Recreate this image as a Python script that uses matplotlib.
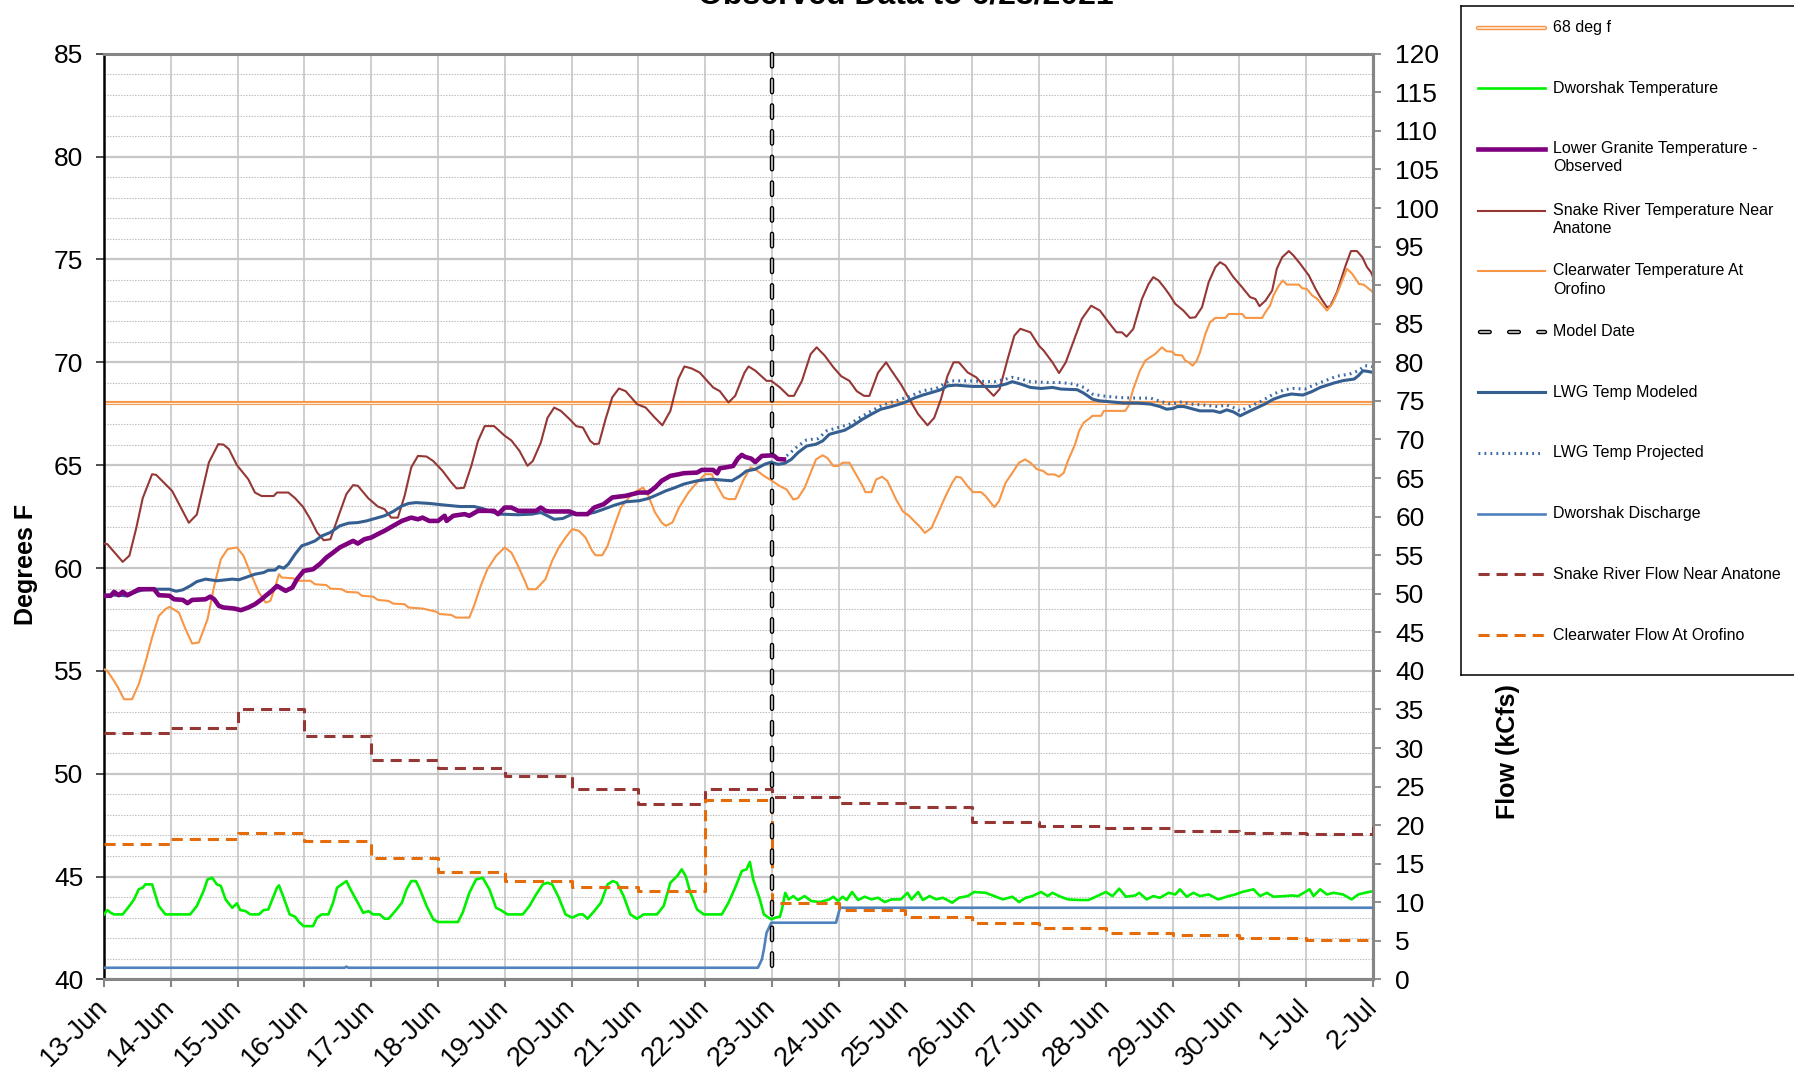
import matplotlib
matplotlib.use('Agg')
import matplotlib.pyplot as plt

plt.rcParams['font.family'] = ['Liberation Sans', 'DejaVu Sans']
plt.rcParams['lines.scale_dashes'] = False

# ---------------- data (x = days after 13-Jun 00:00) ----------------
date_labels = ['13-Jun', '14-Jun', '15-Jun', '16-Jun', '17-Jun', '18-Jun', '19-Jun',
               '20-Jun', '21-Jun', '22-Jun', '23-Jun', '24-Jun', '25-Jun', '26-Jun',
               '27-Jun', '28-Jun', '29-Jun', '30-Jun', '1-Jul', '2-Jul']
temp_ticks = [40, 45, 50, 55, 60, 65, 70, 75, 80, 85]
flow_ticks = list(range(0, 121, 5))

threshold_f = 68
model_day = 10

snake_temp = [(0, 61.19), (0.05, 61.16), (0.28, 60.30), (0.38, 60.6), (0.48, 61.9), (0.58, 63.4),
              (0.72, 64.56), (0.78, 64.53), (1.02, 63.75), (1.15, 62.94), (1.27, 62.2), (1.39, 62.6),
              (1.57, 65.13), (1.71, 66.02), (1.79, 66.0), (1.87, 65.78), (1.99, 65.0), (2.16, 64.32),
              (2.26, 63.67), (2.36, 63.5), (2.54, 63.5), (2.59, 63.67), (2.76, 63.67), (2.86, 63.4),
              (2.98, 62.97), (3.09, 62.37), (3.19, 61.73), (3.29, 61.35), (3.39, 61.4), (3.53, 62.7),
              (3.63, 63.6), (3.73, 64.03), (3.80, 64.0), (3.96, 63.38), (4.10, 62.99), (4.20, 62.86),
              (4.30, 62.45), (4.40, 62.45), (4.50, 63.5), (4.60, 64.89), (4.70, 65.45), (4.83, 65.42),
              (4.93, 65.2), (5.07, 64.72), (5.20, 64.16), (5.28, 63.87), (5.39, 63.9), (5.50, 64.97),
              (5.60, 66.18), (5.70, 66.9), (5.84, 66.9), (6.00, 66.43), (6.10, 66.2), (6.22, 65.7),
              (6.34, 64.97), (6.42, 65.2), (6.54, 66.1), (6.64, 67.3), (6.74, 67.8), (6.84, 67.64),
              (6.97, 67.24), (7.07, 66.9), (7.17, 66.83), (7.28, 66.18), (7.34, 66.02), (7.41, 66.05),
              (7.51, 67.24), (7.61, 68.3), (7.71, 68.73), (7.81, 68.6), (7.98, 67.97), (8.11, 67.8),
              (8.25, 67.3), (8.36, 66.94), (8.48, 67.64), (8.60, 69.2), (8.69, 69.8), (8.80, 69.7),
              (8.92, 69.5), (9.12, 68.78), (9.22, 68.6), (9.35, 68.05), (9.45, 68.37), (9.59, 69.5),
              (9.65, 69.8), (9.75, 69.6), (9.92, 69.1), (9.99, 69.1), (10.12, 68.78), (10.25, 68.37),
              (10.33, 68.37), (10.45, 69.1), (10.58, 70.4), (10.67, 70.73), (10.79, 70.33), (10.92, 69.76),
              (11.04, 69.32), (11.16, 69.1), (11.27, 68.6), (11.38, 68.37), (11.46, 68.37), (11.59, 69.5),
              (11.71, 70.0), (11.79, 69.6), (11.93, 68.94), (12.06, 68.2), (12.19, 67.48), (12.33, 66.94),
              (12.43, 67.3), (12.53, 68.2), (12.63, 69.35), (12.72, 70.0), (12.80, 70.0), (12.93, 69.51),
              (13.06, 69.27), (13.20, 68.78), (13.32, 68.37), (13.41, 68.7), (13.53, 70.16), (13.63, 71.3),
              (13.72, 71.63), (13.87, 71.46), (14.00, 70.8), (14.07, 70.57), (14.20, 70.0), (14.30, 69.48),
              (14.40, 70.0), (14.53, 71.14), (14.64, 72.11), (14.78, 72.75), (14.91, 72.52), (15.06, 71.87),
              (15.16, 71.46), (15.24, 71.46), (15.31, 71.25), (15.41, 71.62), (15.54, 73.08), (15.64, 73.81),
              (15.71, 74.14), (15.79, 73.98), (15.89, 73.57), (15.96, 73.25), (16.04, 72.84), (16.16, 72.52),
              (16.26, 72.16), (16.34, 72.19), (16.44, 72.68), (16.54, 73.9), (16.64, 74.63), (16.71, 74.87),
              (16.79, 74.71), (16.91, 74.14), (17.04, 73.65), (17.16, 73.17), (17.24, 73.08), (17.30, 72.73),
              (17.39, 73.0), (17.49, 73.49), (17.56, 74.55), (17.64, 75.11), (17.74, 75.41), (17.81, 75.19),
              (17.91, 74.79), (18.04, 74.22), (18.14, 73.57), (18.21, 73.17), (18.31, 72.68), (18.36, 72.73),
              (18.46, 73.41), (18.59, 74.71), (18.67, 75.41), (18.76, 75.41), (18.84, 75.11), (18.91, 74.63),
              (18.97, 74.38), (19.0, 74.14)]

clearwater_temp = [(0, 55.08), (0.05, 55.0), (0.15, 54.51), (0.21, 54.19), (0.30, 53.62), (0.42, 53.62),
                   (0.52, 54.35), (0.62, 55.41), (0.72, 56.62), (0.82, 57.67), (0.92, 58.0), (0.98, 58.11),
                   (1.12, 57.84), (1.22, 57.03), (1.32, 56.33), (1.42, 56.38), (1.55, 57.51), (1.65, 59.13),
                   (1.75, 60.43), (1.85, 60.92), (1.99, 61.0), (2.09, 60.59), (2.19, 59.78), (2.32, 58.81),
                   (2.42, 58.32), (2.49, 58.4), (2.56, 59.05), (2.62, 59.7), (2.66, 59.54), (2.83, 59.5),
                   (2.89, 59.38), (3.09, 59.38), (3.16, 59.21), (3.33, 59.17), (3.39, 59.0), (3.56, 58.97),
                   (3.63, 58.84), (3.80, 58.81), (3.86, 58.65), (4.03, 58.61), (4.10, 58.45), (4.26, 58.4),
                   (4.33, 58.27), (4.50, 58.24), (4.56, 58.08), (4.77, 58.03), (4.97, 57.88), (5.03, 57.76),
                   (5.20, 57.72), (5.27, 57.59), (5.47, 57.59), (5.54, 58.16), (5.64, 59.13), (5.74, 59.94),
                   (5.87, 60.59), (6.00, 61.0), (6.10, 60.75), (6.20, 60.1), (6.31, 59.3), (6.35, 58.97),
                   (6.47, 58.97), (6.61, 59.46), (6.71, 60.35), (6.81, 61.0), (6.91, 61.48), (7.01, 61.89),
                   (7.11, 61.81), (7.21, 61.48), (7.31, 60.83), (7.36, 60.62), (7.46, 60.62), (7.54, 61.08),
                   (7.64, 62.05), (7.74, 62.94), (7.88, 63.51), (7.98, 63.75), (8.07, 63.91), (8.15, 63.51),
                   (8.25, 62.7), (8.35, 62.21), (8.41, 62.05), (8.51, 62.21), (8.61, 62.94), (8.75, 63.67),
                   (8.88, 64.16), (9.00, 64.56), (9.10, 64.56), (9.18, 63.99), (9.28, 63.43), (9.35, 63.35),
                   (9.45, 63.35), (9.58, 64.32), (9.68, 64.89), (9.75, 64.8), (9.88, 64.48), (10.02, 64.2),
                   (10.12, 63.98), (10.22, 63.82), (10.32, 63.33), (10.39, 63.4), (10.49, 63.9), (10.56, 64.47),
                   (10.66, 65.28), (10.76, 65.48), (10.83, 65.35), (10.92, 64.96), (10.99, 64.96), (11.06, 65.12),
                   (11.16, 65.12), (11.26, 64.55), (11.36, 63.98), (11.40, 63.69), (11.49, 63.69), (11.56, 64.3),
                   (11.65, 64.44), (11.73, 64.23), (11.79, 63.82), (11.86, 63.33), (11.96, 62.76), (12.06, 62.52),
                   (12.13, 62.28), (12.21, 62.03), (12.29, 61.71), (12.39, 61.95), (12.49, 62.68), (12.60, 63.5),
                   (12.70, 64.15), (12.76, 64.44), (12.83, 64.4), (12.93, 63.98), (13.01, 63.69), (13.13, 63.69),
                   (13.20, 63.5), (13.27, 63.2), (13.33, 62.96), (13.40, 63.25), (13.50, 64.15), (13.60, 64.63),
                   (13.70, 65.12), (13.79, 65.28), (13.87, 65.12), (13.97, 64.8), (14.06, 64.72), (14.13, 64.55),
                   (14.23, 64.55), (14.30, 64.44), (14.37, 64.63), (14.43, 65.2), (14.54, 66.02), (14.60, 66.67),
                   (14.67, 67.07), (14.74, 67.24), (14.80, 67.4), (14.93, 67.4), (14.97, 67.64), (15.29, 67.64),
                   (15.34, 67.89), (15.41, 68.7), (15.51, 69.59), (15.59, 70.08), (15.66, 70.24), (15.74, 70.41),
                   (15.84, 70.73), (15.91, 70.54), (15.99, 70.52), (16.04, 70.36), (16.14, 70.34), (16.19, 70.08),
                   (16.24, 70.0), (16.30, 69.84), (16.36, 70.08), (16.41, 70.49), (16.49, 71.38), (16.56, 71.95),
                   (16.64, 72.16), (16.79, 72.16), (16.84, 72.35), (17.04, 72.35), (17.09, 72.16), (17.34, 72.16),
                   (17.39, 72.44), (17.46, 72.76), (17.51, 73.25), (17.59, 73.73), (17.65, 73.98), (17.71, 73.78),
                   (17.89, 73.78), (17.94, 73.6), (18.01, 73.57), (18.09, 73.25), (18.16, 73.1), (18.24, 72.79),
                   (18.31, 72.52), (18.39, 72.84), (18.46, 73.33), (18.54, 73.98), (18.61, 74.55), (18.69, 74.3),
                   (18.79, 73.81), (18.86, 73.78), (18.94, 73.57), (19.0, 73.41)]

lgr_observed = [(0, 58.65), (0.10, 58.65), (0.15, 58.84), (0.22, 58.68), (0.28, 58.84), (0.35, 58.68),
                (0.45, 58.84), (0.52, 58.97), (0.75, 58.97), (0.82, 58.68), (0.98, 58.65), (1.05, 58.48),
                (1.18, 58.45), (1.25, 58.29), (1.32, 58.45), (1.52, 58.48), (1.59, 58.61), (1.65, 58.48),
                (1.72, 58.16), (1.79, 58.08), (1.95, 58.03), (2.05, 57.95), (2.16, 58.08), (2.26, 58.24),
                (2.36, 58.48), (2.42, 58.65), (2.51, 58.89), (2.59, 59.13), (2.66, 59.0), (2.72, 58.89),
                (2.82, 59.05), (2.89, 59.46), (2.99, 59.86), (3.13, 59.94), (3.23, 60.19), (3.33, 60.51),
                (3.43, 60.75), (3.53, 61.0), (3.63, 61.16), (3.73, 61.32), (3.80, 61.19), (3.90, 61.4),
                (4.00, 61.48), (4.10, 61.65), (4.20, 61.81), (4.33, 62.05), (4.46, 62.29), (4.60, 62.45),
                (4.70, 62.37), (4.77, 62.45), (4.87, 62.29), (5.00, 62.29), (5.10, 62.54), (5.13, 62.29),
                (5.23, 62.54), (5.40, 62.62), (5.47, 62.54), (5.60, 62.78), (5.84, 62.78), (5.90, 62.62),
                (6.00, 62.94), (6.10, 62.94), (6.20, 62.78), (6.47, 62.78), (6.54, 62.94), (6.61, 62.78),
                (6.67, 62.75), (6.97, 62.75), (7.07, 62.62), (7.24, 62.62), (7.34, 62.94), (7.48, 63.1),
                (7.61, 63.43), (7.81, 63.51), (8.01, 63.67), (8.15, 63.67), (8.25, 63.91), (8.35, 64.24),
                (8.48, 64.48), (8.61, 64.56), (8.68, 64.61), (8.88, 64.64), (8.95, 64.77), (9.12, 64.77),
                (9.18, 64.6), (9.22, 64.85), (9.32, 64.9), (9.42, 64.96), (9.49, 65.32), (9.55, 65.5),
                (9.60, 65.4), (9.69, 65.32), (9.75, 65.15), (9.85, 65.45), (10.02, 65.48), (10.09, 65.3),
                (10.18, 65.28)]

lwg_modeled = [(0, 58.68), (0.18, 58.68), (0.35, 58.65), (0.45, 58.81), (0.58, 58.94), (0.72, 58.97),
               (0.98, 58.97), (1.08, 58.87), (1.18, 58.94), (1.29, 59.13), (1.39, 59.34), (1.52, 59.46),
               (1.69, 59.38), (1.80, 59.42), (1.92, 59.46), (2.02, 59.43), (2.12, 59.54), (2.26, 59.7),
               (2.39, 59.78), (2.46, 59.89), (2.56, 59.9), (2.62, 60.07), (2.69, 59.99), (2.76, 60.19),
               (2.86, 60.67), (2.96, 61.08), (3.06, 61.19), (3.16, 61.32), (3.26, 61.56), (3.39, 61.73),
               (3.53, 62.05), (3.66, 62.18), (3.80, 62.21), (3.93, 62.29), (4.06, 62.41), (4.20, 62.54),
               (4.33, 62.75), (4.46, 63.02), (4.56, 63.14), (4.67, 63.18), (4.87, 63.14), (5.07, 63.07),
               (5.33, 62.99), (5.54, 62.99), (5.67, 62.89), (5.80, 62.73), (5.94, 62.62), (6.20, 62.59),
               (6.41, 62.62), (6.54, 62.7), (6.64, 62.54), (6.74, 62.37), (6.87, 62.41), (7.01, 62.62),
               (7.21, 62.62), (7.34, 62.7), (7.48, 62.86), (7.64, 63.05), (7.81, 63.22), (8.01, 63.27),
               (8.15, 63.38), (8.28, 63.56), (8.41, 63.75), (8.55, 63.91), (8.68, 64.08), (8.88, 64.24),
               (9.08, 64.32), (9.28, 64.27), (9.40, 64.24), (9.52, 64.47), (9.62, 64.72), (9.75, 64.8),
               (9.89, 65.04), (9.99, 65.15), (10.09, 65.04), (10.19, 65.09), (10.29, 65.28), (10.39, 65.61),
               (10.52, 65.93), (10.66, 66.02), (10.76, 66.18), (10.86, 66.5), (10.96, 66.59), (11.09, 66.7),
               (11.22, 66.94), (11.36, 67.24), (11.49, 67.48), (11.63, 67.72), (11.79, 67.85), (11.99, 68.05),
               (12.13, 68.26), (12.26, 68.41), (12.43, 68.57), (12.53, 68.67), (12.63, 68.86), (12.76, 68.89),
               (13.00, 68.83), (13.36, 68.83), (13.50, 68.94), (13.60, 69.06), (13.73, 68.94), (13.87, 68.78),
               (14.03, 68.73), (14.20, 68.78), (14.33, 68.7), (14.57, 68.67), (14.67, 68.5), (14.80, 68.21),
               (14.90, 68.13), (15.07, 68.08), (15.27, 68.02), (15.47, 68.02), (15.67, 67.97), (15.81, 67.85),
               (15.91, 67.72), (16.01, 67.76), (16.07, 67.85), (16.17, 67.85), (16.27, 67.76), (16.41, 67.64),
               (16.61, 67.64), (16.71, 67.56), (16.81, 67.69), (16.91, 67.59), (17.01, 67.4), (17.11, 67.56),
               (17.24, 67.76), (17.38, 67.97), (17.51, 68.21), (17.65, 68.37), (17.78, 68.46), (17.95, 68.41),
               (18.08, 68.57), (18.21, 68.78), (18.41, 68.99), (18.55, 69.11), (18.72, 69.19), (18.78, 69.35),
               (18.85, 69.59), (18.92, 69.56), (19.0, 69.51)]

lwg_projected = [(10.15, 65.28), (10.25, 65.53), (10.39, 65.93), (10.52, 66.23), (10.69, 66.29), (10.82, 66.67),
                 (10.99, 66.83), (11.16, 66.99), (11.32, 67.32), (11.49, 67.64), (11.66, 67.92), (11.86, 68.13),
                 (12.06, 68.34), (12.26, 68.62), (12.46, 68.73), (12.66, 69.1), (12.93, 69.1), (13.33, 69.06),
                 (13.46, 69.15), (13.60, 69.27), (13.73, 69.19), (13.87, 69.06), (14.13, 69.02), (14.33, 69.02),
                 (14.53, 68.94), (14.67, 68.78), (14.80, 68.46), (14.94, 68.37), (15.20, 68.29), (15.47, 68.26),
                 (15.67, 68.26), (15.84, 68.08), (15.97, 67.97), (16.14, 68.08), (16.27, 67.97), (16.47, 67.92),
                 (16.67, 67.85), (16.81, 67.92), (16.91, 67.8), (17.01, 67.64), (17.18, 67.89), (17.34, 68.13),
                 (17.51, 68.46), (17.68, 68.67), (17.81, 68.73), (17.98, 68.7), (18.11, 68.89), (18.28, 69.1),
                 (18.45, 69.32), (18.65, 69.43), (18.78, 69.59), (18.88, 69.84), (19.0, 69.79)]

dworshak_temp = [(0, 43.16), (0.05, 43.37), (0.10, 43.24), (0.15, 43.16), (0.28, 43.16), (0.38, 43.57),
                 (0.45, 43.89), (0.52, 44.38), (0.58, 44.46), (0.62, 44.62), (0.72, 44.62), (0.82, 43.57),
                 (0.92, 43.16), (1.29, 43.16), (1.39, 43.57), (1.49, 44.29), (1.55, 44.86), (1.62, 44.94),
                 (1.69, 44.62), (1.75, 44.54), (1.82, 43.89), (1.92, 43.48), (1.99, 43.7), (2.04, 43.37),
                 (2.12, 43.32), (2.19, 43.16), (2.32, 43.16), (2.39, 43.37), (2.46, 43.4), (2.52, 43.89),
                 (2.59, 44.46), (2.62, 44.57), (2.69, 43.97), (2.78, 43.16), (2.86, 43.05), (2.92, 42.79),
                 (2.99, 42.59), (3.13, 42.59), (3.19, 43.0), (3.26, 43.16), (3.36, 43.16), (3.43, 43.73),
                 (3.49, 44.46), (3.56, 44.62), (3.63, 44.78), (3.69, 44.38), (3.80, 43.73), (3.88, 43.24),
                 (3.96, 43.32), (4.03, 43.16), (4.13, 43.16), (4.20, 42.95), (4.26, 42.95), (4.36, 43.32),
                 (4.46, 43.73), (4.53, 44.38), (4.60, 44.78), (4.67, 44.78), (4.73, 44.38), (4.83, 43.57),
                 (4.93, 42.92), (5.00, 42.79), (5.30, 42.79), (5.37, 43.24), (5.47, 44.21), (5.57, 44.86),
                 (5.67, 44.94), (5.77, 44.38), (5.87, 43.48), (5.94, 43.37), (6.04, 43.16), (6.27, 43.16),
                 (6.37, 43.57), (6.47, 44.13), (6.57, 44.62), (6.64, 44.7), (6.71, 44.62), (6.81, 43.97),
                 (6.91, 43.16), (7.01, 43.0), (7.11, 43.16), (7.17, 43.16), (7.24, 42.95), (7.34, 43.32),
                 (7.44, 43.73), (7.54, 44.62), (7.62, 44.78), (7.68, 44.7), (7.78, 44.05), (7.88, 43.16),
                 (7.98, 42.95), (8.08, 43.16), (8.28, 43.16), (8.38, 43.57), (8.48, 44.7), (8.58, 45.02),
                 (8.65, 45.35), (8.71, 45.02), (8.78, 44.21), (8.88, 43.4), (8.98, 43.16), (9.25, 43.16),
                 (9.35, 43.73), (9.45, 44.46), (9.55, 45.27), (9.62, 45.35), (9.67, 45.71), (9.72, 44.86),
                 (9.82, 43.89), (9.88, 43.16), (9.99, 42.92), (10.05, 43.0), (10.12, 43.05), (10.15, 43.4),
                 (10.20, 44.21), (10.25, 43.89), (10.32, 44.05), (10.39, 43.86), (10.49, 44.05), (10.59, 43.81),
                 (10.72, 43.76), (10.86, 43.89), (10.92, 44.02), (10.99, 43.81), (11.06, 44.02), (11.12, 43.86),
                 (11.20, 44.25), (11.29, 43.86), (11.39, 44.02), (11.49, 43.89), (11.59, 43.97), (11.69, 43.76),
                 (11.79, 43.89), (11.93, 43.89), (12.03, 44.21), (12.09, 43.89), (12.19, 44.25), (12.26, 43.86),
                 (12.36, 44.05), (12.46, 43.89), (12.56, 43.97), (12.70, 43.73), (12.80, 43.97), (12.93, 44.05),
                 (13.03, 44.25), (13.20, 44.21), (13.33, 44.05), (13.46, 43.89), (13.60, 44.02), (13.70, 43.76),
                 (13.80, 43.97), (13.90, 44.05), (14.03, 44.25), (14.13, 44.05), (14.20, 44.21), (14.30, 44.05),
                 (14.43, 43.89), (14.60, 43.86), (14.74, 43.86), (14.87, 44.05), (15.00, 44.25), (15.10, 44.05),
                 (15.20, 44.41), (15.30, 44.02), (15.44, 44.08), (15.50, 44.21), (15.61, 43.89), (15.71, 44.05),
                 (15.81, 43.97), (15.94, 44.21), (16.04, 44.13), (16.11, 44.38), (16.21, 44.02), (16.31, 44.21),
                 (16.41, 44.05), (16.54, 44.13), (16.68, 43.89), (16.84, 44.05), (16.94, 44.13), (17.04, 44.25),
                 (17.21, 44.38), (17.31, 44.05), (17.41, 44.21), (17.51, 44.02), (17.68, 44.05), (17.78, 44.08),
                 (17.88, 44.05), (18.05, 44.38), (18.11, 44.05), (18.21, 44.38), (18.31, 44.13), (18.41, 44.21),
                 (18.55, 44.13), (18.68, 43.89), (18.78, 44.13), (18.88, 44.21), (19.0, 44.29)]

dworshak_discharge = [(0, 1.51), (3.60, 1.51), (3.63, 1.65), (3.66, 1.51), (9.79, 1.51), (9.85, 2.59),
                      (9.88, 3.89), (9.92, 6.05), (9.99, 7.35), (10.96, 7.35), (11.02, 9.29), (19.0, 9.29)]

flow_days = list(range(20))
snake_flow = [32.0, 32.6, 35.1, 31.6, 28.5, 27.4, 26.4, 24.7, 22.7, 24.7,
              23.6, 22.9, 22.3, 20.4, 19.9, 19.6, 19.3, 19.0, 18.9, 20.3]
clearwater_flow = [17.5, 18.2, 19.0, 18.0, 15.8, 13.9, 12.8, 12.0, 11.4, 23.2,
                   9.9, 9.0, 8.1, 7.35, 6.65, 6.05, 5.7, 5.4, 5.05, 5.0]

# ---------------- styles ----------------
C_SNAKE = '#953735'
C_CLEAR = '#F79646'
C_PURPLE = '#7F007F'
C_LWG = '#365F91'
C_PROJ = '#3A6BA8'
C_GREEN = '#00F000'
C_DIS = '#4F81BD'
C_CFLOW = '#E46C0A'
C_GRID = '#C6C6C6'
C_SPINE = '#868686'


def xy(pairs):
    return [p[0] for p in pairs], [p[1] for p in pairs]


W, H = 1794, 1068
fig = plt.figure(figsize=(W / 100, H / 100), dpi=100)
ax = fig.add_axes([104 / W, 1 - 979.4 / H, 1269 / W, 925.6 / H])
ax2 = ax.twinx()

ax.set_xlim(0, 19)
ax.set_ylim(40, 85)
ax2.set_ylim(0, 120)

# grid
ax.set_xticks(flow_days)
ax.set_xticklabels(date_labels, rotation=45, ha='right', va='center',
                   rotation_mode='anchor', fontsize=19.5)
ax.set_yticks(temp_ticks)
ax.set_yticks(range(40, 86, 1), minor=True)
ax.set_yticklabels([str(t) for t in temp_ticks], fontsize=19)
ax.grid(axis='x', which='major', color=C_GRID, lw=1.2, ls='-')
ax.grid(axis='y', which='major', color=C_GRID, lw=1.6, ls='-')
ax.grid(axis='y', which='minor', color='#BDBDBD', lw=0.8, ls=(0, (1, 1)))
ax.set_axisbelow(True)
ax.tick_params(axis='y', which='minor', length=0)
ax.tick_params(axis='y', which='major', length=6, width=1.3, color='#404040', pad=9)
ax.tick_params(axis='x', which='major', length=6, width=1.5, color=C_SPINE, pad=11)

ax2.set_yticks(flow_ticks)
ax2.set_yticklabels([str(t) for t in flow_ticks], fontsize=19)
ax2.tick_params(axis='y', length=6, width=1.3, color=C_SPINE, pad=10)

for s in ['top', 'bottom', 'right']:
    ax.spines[s].set_color(C_SPINE)
    ax.spines[s].set_linewidth(2.2)
ax.spines['left'].set_color('black')
ax.spines['left'].set_linewidth(1.8)
for s in ['left', 'top', 'bottom']:
    ax2.spines[s].set_visible(False)
ax2.spines['right'].set_color(C_SPINE)
ax2.spines['right'].set_linewidth(2.2)

# temperature series (left axis)
ax.plot([0, 19], [threshold_f, threshold_f], color=C_CLEAR, lw=3.0, solid_capstyle='butt', zorder=2)
ax.plot([0, 19], [threshold_f, threshold_f], color='#FDEADA', lw=0.9, solid_capstyle='butt', zorder=2)
x, y = xy(dworshak_temp)
ax.plot(x, y, color=C_GREEN, lw=1.9, zorder=3)
x, y = xy(snake_temp)
ax.plot(x, y, color=C_SNAKE, lw=1.5, zorder=3)
x, y = xy(clearwater_temp)
ax.plot(x, y, color=C_CLEAR, lw=1.5, zorder=3)
x, y = xy(lwg_projected)
ax.plot(x, y, color=C_PROJ, lw=2.2, ls=(0, (1.3, 3.0)), zorder=4)
x, y = xy(lwg_modeled)
ax.plot(x, y, color=C_LWG, lw=2.2, zorder=4)
x, y = xy(lgr_observed)
ax.plot(x, y, color=C_PURPLE, lw=3.3, zorder=5)

# flow series (right axis)
x, y = xy(dworshak_discharge)
ax2.plot(x, y, color=C_DIS, lw=1.9, zorder=3)
ax2.plot(flow_days, snake_flow, color=C_SNAKE, lw=2.2, ls=(0, (8, 5)), drawstyle='steps-post', zorder=3)
ax2.plot(flow_days, clearwater_flow, color=C_CFLOW, lw=2.2, ls=(0, (8, 5)), drawstyle='steps-post', zorder=3)

# model date (drawn from top downward so a dash sits at the top edge)
ax2.plot([model_day, model_day], [120, 0], color='black', lw=3.2, ls=(0, (9, 9.5)),
         dash_capstyle='round', zorder=6, clip_on=False)
ax2.plot([model_day, model_day], [120, 0], color='#D0D0D0', lw=1.2, ls=(0, (9, 9.5)),
         dash_capstyle='round', zorder=7, clip_on=False)

# texts
fig.text(906 / W, 1 - 3.5 / H, 'Observed Data to 6/23/2021', ha='center', va='baseline',
         fontsize=23, fontweight='bold')
fig.text(26 / W, 1 - 564 / H, 'Degrees F', rotation=90, ha='center', va='center',
         fontsize=18, fontweight='bold')
fig.text(1508 / W, 1 - 752 / H, 'Flow (kCfs)', rotation=90, ha='center', va='center',
         fontsize=18, fontweight='bold')

# legend box (drawn manually, clipped at figure right edge as in the original)
lax = fig.add_axes([1461 / W, 1 - 675 / H, (W - 1461) / W, 669 / H])
lax.set_xlim(1461, W)
lax.set_ylim(675, 6)
lax.set_xticks([])
lax.set_yticks([])
for s in ['left', 'top', 'bottom']:
    lax.spines[s].set_color('black')
    lax.spines[s].set_linewidth(1.1)
lax.spines['right'].set_visible(False)

entries = [
    ('68 deg f', None),
    ('Dworshak Temperature', None),
    ('Lower Granite Temperature -', 'Observed'),
    ('Snake River Temperature Near', 'Anatone'),
    ('Clearwater Temperature At', 'Orofino'),
    ('Model Date', None),
    ('LWG Temp Modeled', None),
    ('LWG Temp Projected', None),
    ('Dworshak Discharge', None),
    ('Snake River Flow Near Anatone', None),
    ('Clearwater Flow At Orofino', None),
]
ys = [27.5, 88, 148.7, 210.5, 271, 331.8, 392.4, 453, 513.7, 574.3, 635]
hx = [1478, 1545]
for i, ((l1, l2), yy) in enumerate(zip(entries, ys)):
    if i == 0:
        lax.plot(hx, [yy, yy], color=C_CLEAR, lw=3.2, solid_capstyle='round')
        lax.plot(hx, [yy, yy], color='#FDEADA', lw=1.2, solid_capstyle='round')
    elif i == 1:
        lax.plot(hx, [yy, yy], color=C_GREEN, lw=1.9)
    elif i == 2:
        lax.plot(hx, [yy, yy], color=C_PURPLE, lw=3.3)
    elif i == 3:
        lax.plot(hx, [yy, yy], color=C_SNAKE, lw=1.5)
    elif i == 4:
        lax.plot(hx, [yy, yy], color=C_CLEAR, lw=1.5)
    elif i == 5:
        lax.plot([1480, 1545], [yy, yy], color='black', lw=3.2, ls=(0, (7, 14)), dash_capstyle='round')
        lax.plot([1480, 1545], [yy, yy], color='#D0D0D0', lw=1.2, ls=(0, (7, 14)), dash_capstyle='round')
    elif i == 6:
        lax.plot(hx, [yy, yy], color=C_LWG, lw=2.2)
    elif i == 7:
        lax.plot([1478, 1540], [yy, yy], color=C_PROJ, lw=2.2, ls=(0, (1.3, 3.0)))
    elif i == 8:
        lax.plot(hx, [yy, yy], color=C_DIS, lw=1.9)
    elif i == 9:
        lax.plot(hx, [yy, yy], color=C_SNAKE, lw=2.2, ls=(0, (8, 5)))
    elif i == 10:
        lax.plot(hx, [yy, yy], color=C_CFLOW, lw=2.2, ls=(0, (8, 5)))
    lax.text(1553, yy, l1, fontsize=11.5, ha='left', va='center')
    if l2:
        lax.text(1553, yy + 18, l2, fontsize=11.5, ha='left', va='center')

fig.savefig('out.png', dpi=100)
